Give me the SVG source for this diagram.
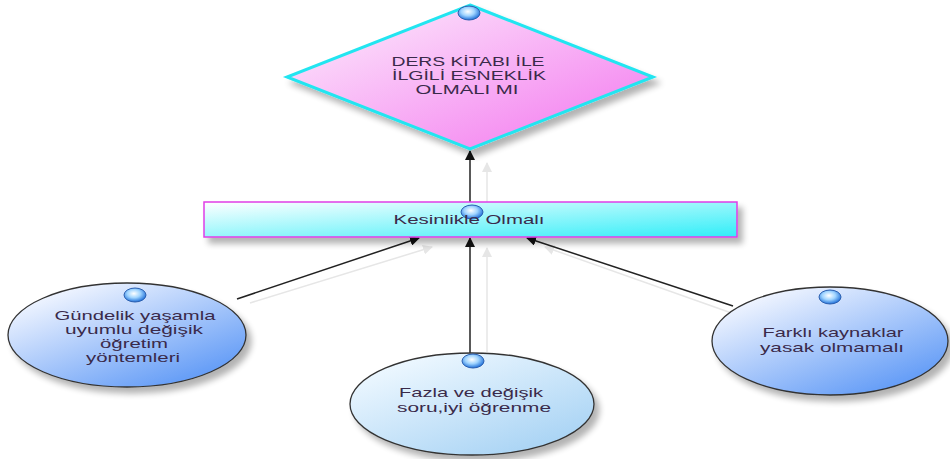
<svg xmlns="http://www.w3.org/2000/svg" width="950" height="459" viewBox="0 0 950 459">
<defs>
<linearGradient id="gDia" x1="0" y1="0" x2="1" y2="1"><stop offset="0" stop-color="#fdf0fd"/><stop offset="1" stop-color="#f374ee"/></linearGradient>
<linearGradient id="gRect" x1="0" y1="0" x2="1" y2="1"><stop offset="0" stop-color="#ffffff"/><stop offset="1" stop-color="#30eef8"/></linearGradient>
<linearGradient id="gEll" x1="0.15" y1="0.1" x2="0.85" y2="0.95"><stop offset="0" stop-color="#f2f6ff"/><stop offset="1" stop-color="#5b97f6"/></linearGradient>
<linearGradient id="gEll2" x1="0.15" y1="0.1" x2="0.85" y2="0.95"><stop offset="0" stop-color="#eef8ff"/><stop offset="1" stop-color="#a6d2f4"/></linearGradient>
<radialGradient id="gDot" cx="0.45" cy="0.4" r="0.6"><stop offset="0" stop-color="#ffffff"/><stop offset="0.5" stop-color="#9fd4ff"/><stop offset="1" stop-color="#1f6fd8"/></radialGradient>
<filter id="sh" x="-10%" y="-20%" width="130%" height="160%"><feGaussianBlur in="SourceAlpha" stdDeviation="3"/><feOffset dx="5" dy="6"/><feComponentTransfer><feFuncA type="linear" slope="0.3"/></feComponentTransfer><feMerge><feMergeNode/><feMergeNode in="SourceGraphic"/></feMerge></filter>
<marker id="ah" viewBox="0 0 10 10" refX="9" refY="5" markerWidth="10" markerHeight="10" markerUnits="userSpaceOnUse" orient="auto"><path d="M0,0 L10,5 L0,10 z" fill="#111"/></marker>
<marker id="ahs" viewBox="0 0 10 10" refX="9" refY="5" markerWidth="10" markerHeight="10" markerUnits="userSpaceOnUse" orient="auto"><path d="M0,0 L10,5 L0,10 z" fill="#e6e6e6"/></marker>
<style>
.t{font-family:"Liberation Sans",Arial,sans-serif;font-size:13px;fill:#3a2a4a;text-anchor:middle}
.ell{stroke:#333;stroke-width:1.3}
.dot{fill:url(#gDot);stroke:#2a5fb0;stroke-width:1}
.c{stroke:#222;stroke-width:1.5;fill:none;marker-end:url(#ah)}
.cs{stroke:#e6e6e6;stroke-width:1.5;fill:none;marker-end:url(#ahs)}
</style>
</defs>
<rect width="950" height="459" fill="#ffffff"/>
<g id="connectors">
<line class="cs" x1="487" y1="202" x2="487" y2="163"/>
<line class="cs" x1="487" y1="352" x2="487" y2="248"/>
<line class="cs" x1="250" y1="303" x2="432" y2="247"/>
<line class="cs" x1="740" y1="316" x2="545" y2="247"/>
<line class="c" x1="470" y1="202" x2="470" y2="151"/>
<line class="c" x1="470" y1="353" x2="470" y2="238"/>
<line class="c" x1="237" y1="299" x2="419" y2="238"/>
<line class="c" x1="733" y1="306" x2="527" y2="238"/>
</g>
<g id="n_question">
<polygon points="470,5 653,77 470,149 287,77" fill="url(#gDia)" stroke="#22e5f0" stroke-width="3" filter="url(#sh)"/>
<ellipse class="dot" cx="469" cy="13" rx="11" ry="7"/>
<text class="t" x="468" y="66" textLength="153" lengthAdjust="spacingAndGlyphs">DERS KİTABI İLE</text>
<text class="t" x="469" y="80" textLength="154" lengthAdjust="spacingAndGlyphs">İLGİLİ ESNEKLİK</text>
<text class="t" x="467" y="94" textLength="103" lengthAdjust="spacingAndGlyphs">OLMALI MI</text>
</g>
<g id="n_answer">
<rect x="204" y="202" width="533" height="35" fill="url(#gRect)" stroke="#e03ee6" stroke-width="1.5" filter="url(#sh)"/>
<ellipse class="dot" cx="472" cy="212" rx="11" ry="7"/>
<text class="t" x="469" y="224" textLength="151" lengthAdjust="spacingAndGlyphs">Kesinlikle Olmalı</text>
</g>
<g id="n_left">
<ellipse class="ell" cx="127" cy="335" rx="119" ry="52" fill="url(#gEll)" filter="url(#sh)"/>
<ellipse class="dot" cx="135" cy="295" rx="11" ry="7"/>
<text class="t" x="135" y="320" textLength="161" lengthAdjust="spacingAndGlyphs">Gündelik yaşamla</text>
<text class="t" x="134" y="334" textLength="138" lengthAdjust="spacingAndGlyphs">uyumlu değişik</text>
<text class="t" x="134" y="348" textLength="68" lengthAdjust="spacingAndGlyphs">öğretim</text>
<text class="t" x="133" y="362" textLength="94" lengthAdjust="spacingAndGlyphs">yöntemleri</text>
</g>
<g id="n_mid">
<ellipse class="ell" cx="472" cy="404" rx="122" ry="51" fill="url(#gEll2)" filter="url(#sh)"/>
<ellipse class="dot" cx="473" cy="361" rx="11" ry="7"/>
<text class="t" x="471" y="397" textLength="144" lengthAdjust="spacingAndGlyphs">Fazla ve değişik</text>
<text class="t" x="474" y="412" textLength="154" lengthAdjust="spacingAndGlyphs">soru,iyi öğrenme</text>
</g>
<g id="n_right">
<ellipse class="ell" cx="830" cy="341" rx="118" ry="54" fill="url(#gEll)" filter="url(#sh)"/>
<ellipse class="dot" cx="830" cy="297" rx="11" ry="7"/>
<text class="t" x="833" y="337" textLength="141" lengthAdjust="spacingAndGlyphs">Farklı kaynaklar</text>
<text class="t" x="832" y="352" textLength="144" lengthAdjust="spacingAndGlyphs">yasak olmamalı</text>
</g>
</svg>
